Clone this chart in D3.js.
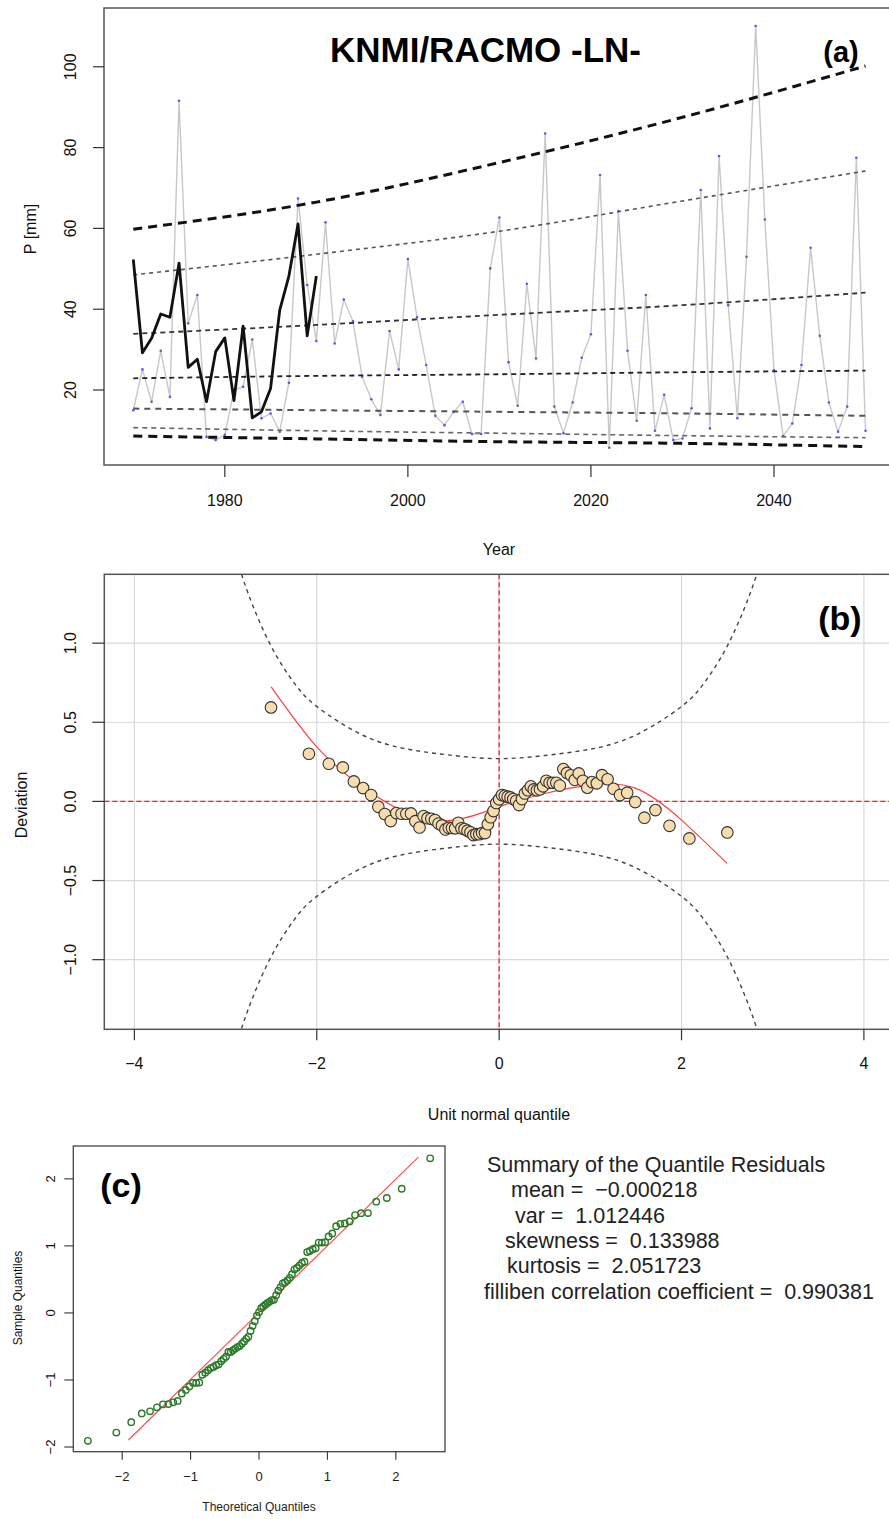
<!DOCTYPE html>
<html><head><meta charset="utf-8">
<script src="https://cdn.jsdelivr.net/npm/d3@7"></script>
<style>body{margin:0;background:#fff} svg{display:block;font-family:Arial,"Liberation Sans",sans-serif}</style>
</head><body>
<svg id="chart" width="889" height="1519"></svg>
<script>
// ---------- Panel (a) data ----------
const startYear = 1970;
const simValues = [15.0,25.1,17.1,29.7,18.3,91.6,36.5,43.5,8.4,7.6,
  8.9,20.0,20.8,32.5,13.0,14.2,9.7,21.8,67.4,46.0,
  32.1,61.5,31.5,42.4,37.0,23.3,17.7,13.8,34.6,25.1,
  52.4,38.0,26.2,13.6,11.3,14.6,17.1,9.1,9.1,50.1,
  62.7,26.9,16.1,46.3,27.8,83.5,15.9,9.3,16.9,28.0,
  33.8,73.2,5.7,64.3,29.7,12.4,43.5,9.9,18.8,7.6,
  8.0,15.5,69.5,10.5,77.9,41.0,13.0,53.0,110.1,62.2,
  24.9,8.6,11.7,26.2,55.2,33.4,16.9,9.7,15.9,77.5,
  9.9];
const obsValues = [52.3,29.2,32.8,38.8,38.0,51.4,25.6,27.6,17.1,29.5,
  32.9,17.4,35.8,13.1,14.6,20.4,39.8,48.2,61.1,33.4,48.2];
const trendYears = [1970,1990,2010,2030,2050];
const trendQ1 = [59.8,66.5,76.3,87.5,100.2];
const trendQ2 = [48.5,53.6,59.3,66.8,74.2];
const trendQ3 = [33.9,36.1,38.6,41.0,44.1];
const trendQ4 = [22.9,23.5,23.9,24.4,24.8];
const trendQ5 = [15.4,15.0,14.6,14.2,13.6];
const trendQ6 = [10.7,9.9,9.3,8.7,8.2];
const trendQ7 = [8.6,7.9,7.2,6.8,6.0];
const yearTicks = [1980,2000,2020,2040];
const pTicks = [20,40,60,80,100];

// ---------- Panel (b) data ----------
const theoQ = [-2.502,-2.086,-1.868,-1.714,-1.593,-1.492,-1.404,-1.325,-1.254,-1.189,
  -1.128,-1.071,-1.018,-0.967,-0.919,-0.873,-0.829,-0.786,-0.744,-0.704,
  -0.665,-0.627,-0.589,-0.553,-0.517,-0.482,-0.448,-0.414,-0.380,-0.347,
  -0.315,-0.282,-0.250,-0.218,-0.187,-0.155,-0.124,-0.093,-0.062,-0.031,
  0.000,0.031,0.062,0.093,0.124,0.155,0.187,0.218,0.250,0.282,
  0.315,0.347,0.380,0.414,0.448,0.482,0.517,0.553,0.589,0.627,
  0.665,0.704,0.744,0.786,0.829,0.873,0.919,0.967,1.018,1.071,
  1.128,1.189,1.254,1.325,1.404,1.492,1.593,1.714,1.868,2.086,2.502];
const wormDev = [0.594,0.301,0.238,0.215,0.126,0.084,0.040,-0.034,-0.080,-0.124,
  -0.074,-0.078,-0.078,-0.076,-0.125,-0.165,-0.093,-0.106,-0.110,-0.118,
  -0.140,-0.152,-0.177,-0.166,-0.168,-0.170,-0.135,-0.170,-0.175,-0.185,
  -0.195,-0.213,-0.207,-0.207,-0.200,-0.200,-0.144,-0.100,-0.061,-0.010,
  0.013,0.040,0.035,0.030,0.025,0.015,0.004,-0.023,0.015,0.050,
  0.071,0.095,0.076,0.070,0.076,0.095,0.130,0.118,0.118,0.118,
  0.100,0.204,0.180,0.165,0.136,0.177,0.130,0.087,0.122,0.114,
  0.166,0.140,0.080,0.040,0.055,-0.004,-0.103,-0.055,-0.154,-0.234,-0.196];
const bandZ = [-2.9,-2.75,-2.5,-2.25,-2,-1.5,-1,-0.5,0,0.5,1,1.5,2,2.25,2.5,2.75,2.9];
const bandUpper = [1.58,1.31,0.98,0.75,0.60,0.42,0.33,0.29,0.27,0.29,0.33,0.42,0.60,0.75,0.98,1.31,1.58];
const bandLower = [-1.58,-1.31,-0.98,-0.75,-0.60,-0.42,-0.33,-0.29,-0.27,-0.29,-0.33,-0.42,-0.60,-0.75,-0.98,-1.31,-1.58];
const fitZ = [-2.5,-2,-1.5,-1,-0.5,0,0.5,1,1.5,2,2.5];
const fitDev = [0.724,0.345,0.092,-0.076,-0.118,-0.034,0.05,0.103,0.082,-0.118,-0.392];
const bxTicks = [-4,-2,0,2,4];
const byTicks = [-1,-0.5,0,0.5,1];
const byTickLabels = ["\u22121.0","\u22120.5","0.0","0.5","1.0"];

// ---------- Panel (c) data ----------
const qqLineX = [-1.91,2.33];
const qqLineY = [-1.896,2.324];
const cxTicks = [-2,-1,0,1,2];
const cyTicks = [-2,-1,0,1,2];
const summaryLines = [
  ["Summary of the Quantile Residuals",487],
  ["mean =  \u22120.000218",511],
  ["var =  1.012446",515],
  ["skewness =  0.133988",505],
  ["kurtosis =  2.051723",507],
  ["filliben correlation coefficient =  0.990381",484]
];

const svg = d3.select("#chart");
const minus = v => String(v).replace("-", "\u2212");

function boxPanel(id, x0, y0, x1, y1){
  svg.append("clipPath").attr("id", id).append("rect")
    .attr("x", x0).attr("y", y0).attr("width", x1-x0).attr("height", y1-y0);
}
function rotLabel(x, y, txt, size){
  svg.append("text").attr("transform", `translate(${x},${y}) rotate(-90)`)
    .attr("text-anchor","middle").attr("dy","0.35em")
    .attr("font-size", size).attr("fill","#111").text(txt);
}

// ================= Panel (a) =================
const A = {l:104, t:8, r:894.8, b:465};
const xA = d3.scaleLinear().domain([1966.8, 2053.2]).range([A.l, A.r]);
const yA = d3.scaleLinear().domain([1.44, 114.55]).range([A.b, A.t]);
boxPanel("clipA", A.l, A.t, A.r, A.b);
const gA = svg.append("g").attr("clip-path","url(#clipA)");

const simData = simValues.map((v,i)=>({x:startYear+i, y:v}));
const obsData = obsValues.map((v,i)=>({x:startYear+i, y:v}));
const lineA = d3.line().x(d=>xA(d.x)).y(d=>yA(d.y));

gA.append("path").datum(simData).attr("d", lineA)
  .attr("fill","none").attr("stroke","#c8c8c8").attr("stroke-width",1.4);
gA.selectAll("circle.sim").data(simData).join("circle")
  .attr("cx",d=>xA(d.x)).attr("cy",d=>yA(d.y)).attr("r",1.3).attr("fill","#5555ff");

const trends = [
  [trendQ1,"#111",3,"9,6"],
  [trendQ2,"#555",1.6,"4,4"],
  [trendQ3,"#333",1.8,"5,4"],
  [trendQ4,"#222",1.8,"5,4"],
  [trendQ5,"#555",2,"6,5"],
  [trendQ6,"#666",1.6,"5,4"],
  [trendQ7,"#111",3,"9,6"]
];
const trendLine = d3.line().x(d=>xA(d.x)).y(d=>yA(d.y)).curve(d3.curveMonotoneX);
trends.forEach(([arr,col,w,dash])=>{
  gA.append("path").datum(arr.map((v,i)=>({x:trendYears[i], y:v})))
    .attr("d", trendLine).attr("fill","none").attr("stroke",col)
    .attr("stroke-width",w).attr("stroke-dasharray",dash);
});
gA.append("path").datum(obsData).attr("d", lineA)
  .attr("fill","none").attr("stroke","#111").attr("stroke-width",2.8)
  .attr("stroke-linejoin","round");

svg.append("rect").attr("x",A.l).attr("y",A.t).attr("width",A.r-A.l).attr("height",A.b-A.t)
  .attr("fill","none").attr("stroke","#555").attr("stroke-width",1.5);
yearTicks.forEach(t=>{
  svg.append("line").attr("x1",xA(t)).attr("x2",xA(t)).attr("y1",A.b).attr("y2",A.b+12)
    .attr("stroke","#333").attr("stroke-width",1.2);
  svg.append("text").attr("x",xA(t)).attr("y",500).attr("dy","0.35em")
    .attr("text-anchor","middle").attr("font-size",16).attr("fill","#111").text(t);
});
pTicks.forEach(t=>{
  svg.append("line").attr("x1",A.l-11).attr("x2",A.l).attr("y1",yA(t)).attr("y2",yA(t))
    .attr("stroke","#333").attr("stroke-width",1.2);
  rotLabel(70, yA(t), t, 16);
});
rotLabel(30, 229, "P [mm]", 16);
svg.append("text").attr("x",499).attr("y",549).attr("dy","0.35em").attr("text-anchor","middle")
  .attr("font-size",16).attr("fill","#111").text("Year");
svg.append("text").attr("x",485.5).attr("y",62).attr("text-anchor","middle")
  .attr("font-size",35).attr("font-weight","bold").text("KNMI/RACMO -LN-");
svg.append("text").attr("x",841).attr("y",62).attr("text-anchor","middle")
  .attr("font-size",29).attr("font-weight","bold").text("(a)");

// ================= Panel (b) =================
const B = {l:104.3, t:574.3, r:894, b:1029.3};
const xB = d3.scaleLinear().domain([-4.33, 4.33]).range([B.l, B.r]);
const yB = d3.scaleLinear().domain([-1.44, 1.435]).range([B.b, B.t]);
boxPanel("clipB", B.l, B.t, B.r, B.b);
const gB = svg.append("g").attr("clip-path","url(#clipB)");
bxTicks.forEach(t=>gB.append("line").attr("x1",xB(t)).attr("x2",xB(t)).attr("y1",B.t).attr("y2",B.b)
  .attr("stroke","#d9d9d9").attr("stroke-width",1.2));
byTicks.forEach(t=>gB.append("line").attr("x1",B.l).attr("x2",B.r).attr("y1",yB(t)).attr("y2",yB(t))
  .attr("stroke","#d9d9d9").attr("stroke-width",1.2));
gB.append("line").attr("x1",xB(0)).attr("x2",xB(0)).attr("y1",B.t).attr("y2",B.b)
  .attr("stroke","#ff1a1a").attr("stroke-width",1.3).attr("stroke-dasharray","5,3");
gB.append("line").attr("x1",B.l).attr("x2",B.r).attr("y1",yB(0)).attr("y2",yB(0))
  .attr("stroke","#ff1a1a").attr("stroke-width",1.3).attr("stroke-dasharray","5,3");
const bandLine = d3.line().x(d=>xB(d[0])).y(d=>yB(d[1])).curve(d3.curveNatural);
[bandUpper, bandLower].forEach(arr=>{
  gB.append("path").datum(bandZ.map((z,i)=>[z,arr[i]])).attr("d",bandLine)
    .attr("fill","none").attr("stroke","#444").attr("stroke-width",1.4).attr("stroke-dasharray","4,4");
});
gB.append("path").datum(fitZ.map((z,i)=>[z,fitDev[i]])).attr("d",bandLine)
  .attr("fill","none").attr("stroke","#ff4040").attr("stroke-width",1.2);
gB.selectAll("circle.w").data(theoQ.map((z,i)=>[z,wormDev[i]])).join("circle")
  .attr("cx",d=>xB(d[0])).attr("cy",d=>yB(d[1])).attr("r",5.8)
  .attr("fill","#f7dcae").attr("stroke","#333").attr("stroke-width",1.1);

svg.append("rect").attr("x",B.l).attr("y",B.t).attr("width",B.r-B.l).attr("height",B.b-B.t)
  .attr("fill","none").attr("stroke","#555").attr("stroke-width",1.5);
bxTicks.forEach(t=>{
  svg.append("line").attr("x1",xB(t)).attr("x2",xB(t)).attr("y1",B.b).attr("y2",B.b+11)
    .attr("stroke","#333").attr("stroke-width",1.2);
  svg.append("text").attr("x",xB(t)).attr("y",1063).attr("dy","0.35em")
    .attr("text-anchor","middle").attr("font-size",16).attr("fill","#111").text(minus(t));
});
byTicks.forEach((t,i)=>{
  svg.append("line").attr("x1",B.l-12).attr("x2",B.l).attr("y1",yB(t)).attr("y2",yB(t))
    .attr("stroke","#333").attr("stroke-width",1.2);
  rotLabel(70, yB(t), byTickLabels[i], 16);
});
rotLabel(21, 805, "Deviation", 16);
svg.append("text").attr("x",499).attr("y",1114).attr("dy","0.35em").attr("text-anchor","middle")
  .attr("font-size",16).attr("fill","#111").text("Unit normal quantile");
svg.append("text").attr("x",840).attr("y",630).attr("text-anchor","middle")
  .attr("font-size",34).attr("font-weight","bold").text("(b)");

// ================= Panel (c) =================
const C = {l:73.3, t:1146, r:445, b:1451.7};
const xC = d3.scaleLinear().domain([-2.715, 2.719]).range([C.l, C.r]);
const yC = d3.scaleLinear().domain([-2.07, 2.49]).range([C.b, C.t]);
const sampleQ = theoQ.map((z,i)=>z + wormDev[i]);
svg.append("line").attr("x1",xC(qqLineX[0])).attr("x2",xC(qqLineX[1]))
  .attr("y1",yC(qqLineY[0])).attr("y2",yC(qqLineY[1]))
  .attr("stroke","#ff5050").attr("stroke-width",1.2);
svg.selectAll("circle.qq").data(theoQ.map((z,i)=>[z,sampleQ[i]])).join("circle")
  .attr("cx",d=>xC(d[0])).attr("cy",d=>yC(d[1])).attr("r",3.2)
  .attr("fill","none").attr("stroke","#2a7a2a").attr("stroke-width",1.4);
svg.append("rect").attr("x",C.l).attr("y",C.t).attr("width",C.r-C.l).attr("height",C.b-C.t)
  .attr("fill","none").attr("stroke","#444").attr("stroke-width",1.3);
cxTicks.forEach(t=>{
  svg.append("line").attr("x1",xC(t)).attr("x2",xC(t)).attr("y1",C.b).attr("y2",C.b+8)
    .attr("stroke","#333").attr("stroke-width",1.1);
  svg.append("text").attr("x",xC(t)).attr("y",1476).attr("dy","0.35em")
    .attr("text-anchor","middle").attr("font-size",13).attr("fill","#222").text(minus(t));
});
cyTicks.forEach(t=>{
  svg.append("line").attr("x1",C.l-9).attr("x2",C.l).attr("y1",yC(t)).attr("y2",yC(t))
    .attr("stroke","#333").attr("stroke-width",1.1);
  rotLabel(50, yC(t), minus(t), 13);
});
rotLabel(18, 1298, "Sample Quantiles", 12);
svg.append("text").attr("x",259).attr("y",1507).attr("dy","0.35em").attr("text-anchor","middle")
  .attr("font-size",12).attr("fill","#222").text("Theoretical Quantiles");
svg.append("text").attr("x",121).attr("y",1197).attr("text-anchor","middle")
  .attr("font-size",34).attr("font-weight","bold").text("(c)");

summaryLines.forEach(([txt,x],i)=>{
  svg.append("text").attr("x",x).attr("y",1172+i*25.3).attr("font-size",21.5)
    .attr("fill","#222").attr("xml:space","preserve").style("white-space","pre").text(txt);
});
</script>
</body></html>
